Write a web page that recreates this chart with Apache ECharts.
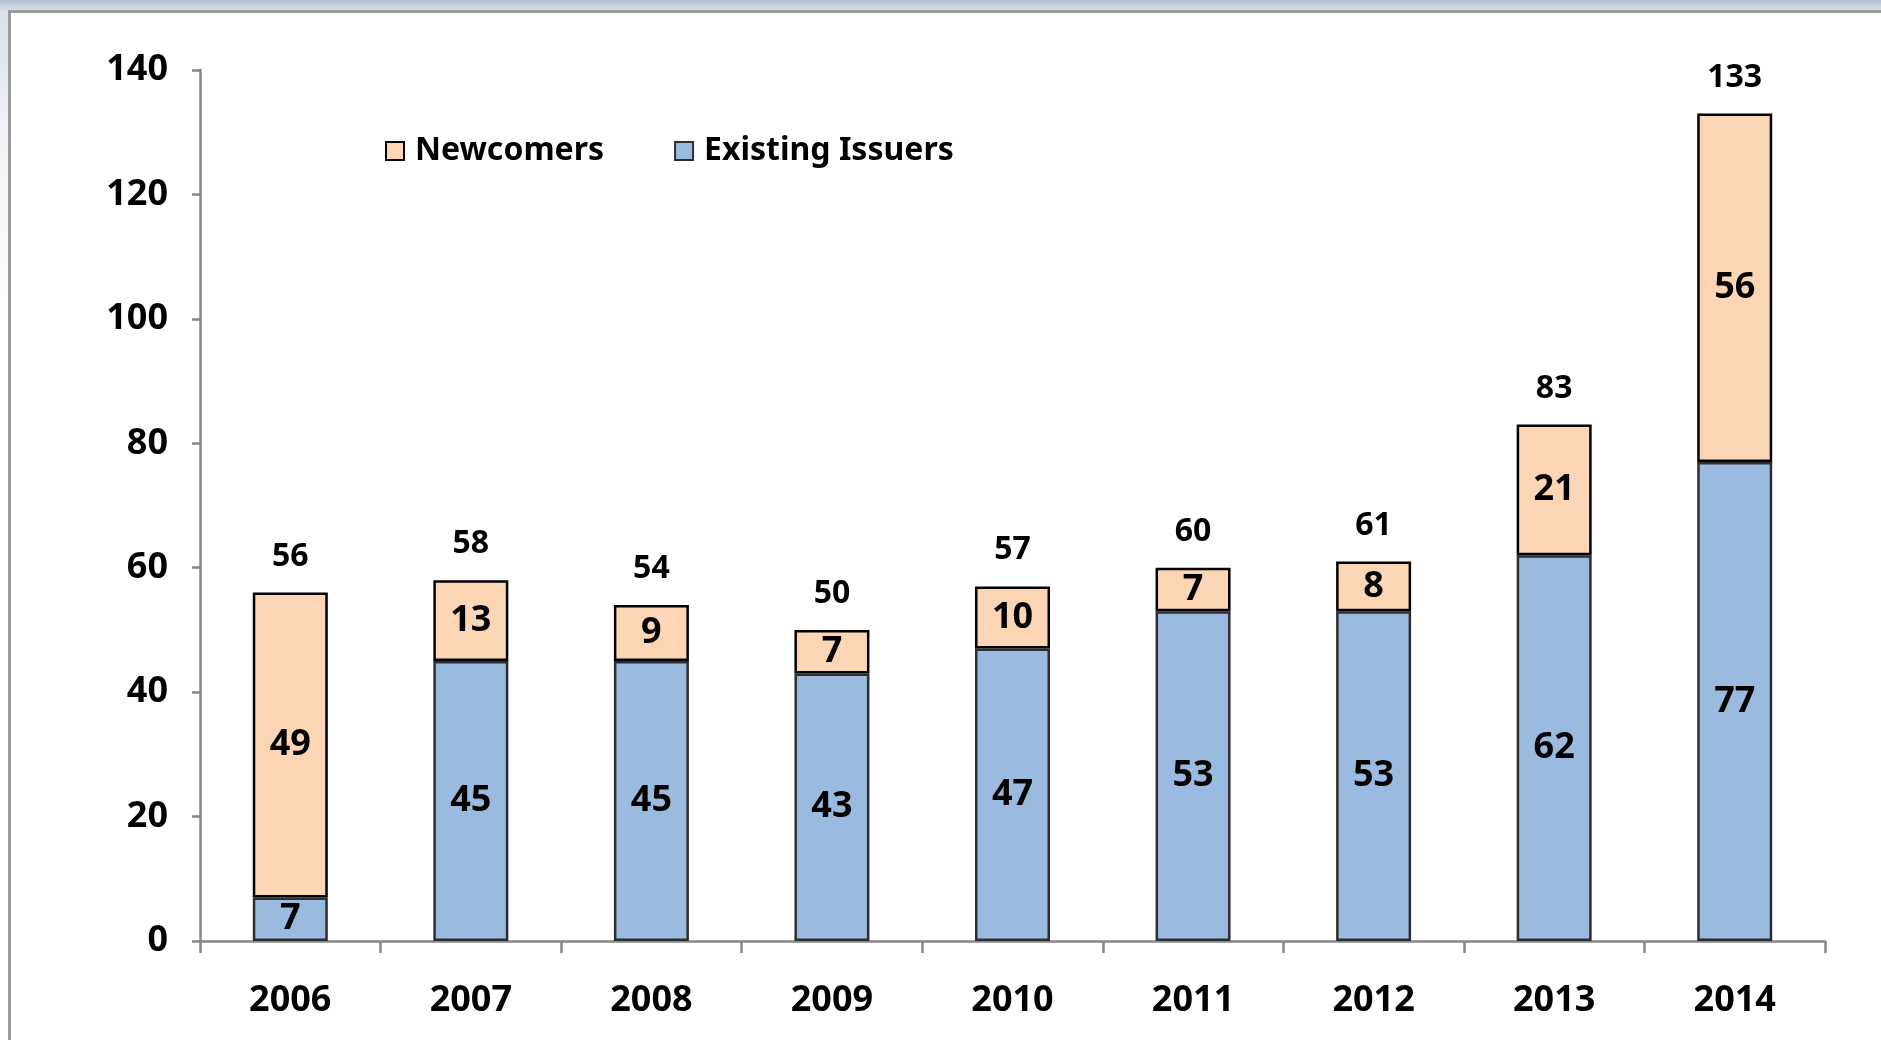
<!DOCTYPE html>
<html>
<head>
<meta charset="utf-8">
<script src="https://cdn.jsdelivr.net/npm/echarts@6/dist/echarts.min.js"></script>
<style>
	html, body { margin: 0; padding: 0; width: 1881px; height: 1040px; overflow: hidden; }
	body { background: linear-gradient(#b5c1d0 0, #d9e0e9 11px, #eef1f5 120px, #ffffff 320px); position: relative; }
	#frame { position: absolute; left: 8px; top: 10px; width: 1900px; height: 1100px; background: #fff;
		border-left: 3px solid #9a9a9a; border-top: 3px solid #9a9a9a; }
	#main { position: absolute; left: 0; top: 0; width: 1881px; height: 1040px; }
</style>
</head>
<body>
<div id="frame"></div>
<div id="main"></div>
<script>
// 年份
var years = ['2006', '2007', '2008', '2009', '2010', '2011', '2012', '2013', '2014'];
// 既有发行人 (下层)
var existing = [7, 45, 45, 43, 47, 53, 53, 62, 77];
// 新发行人 (上层)
var newcomers = [49, 13, 9, 7, 10, 7, 8, 21, 56];
// 合计 (柱顶标签)
var totals = [56, 58, 54, 50, 57, 60, 61, 83, 133];

var font = '"Noto Sans", "DejaVu Sans", sans-serif';

var chart = echarts.init(document.getElementById('main'), null, { renderer: 'canvas' });

var option = {
	animation: false,
	backgroundColor: 'transparent',
	//网格
	grid: {
		left: 200,
		right: 56,
		top: 70,
		bottom: 99,
		containLabel: false
	},
	//图例
	legend: {
		data: ['Newcomers', 'Existing Issuers'],
		left: 380,
		top: 130,
		itemWidth: 18,
		itemHeight: 18,
		itemGap: 70,
		icon: 'rect',
		textStyle: {
			fontFamily: font,
			fontWeight: 'bold',
			fontSize: 32,
			color: '#000',
			padding: [0, 0, 0, 6]
		}
	},
	//x轴
	xAxis: {
		type: 'category',
		data: years,
		axisLine: {
			lineStyle: { color: '#878787', width: 2.5 }
		},
		axisTick: {
			show: true,
			length: 12,
			lineStyle: { color: '#878787', width: 2.5 }
		},
		axisLabel: {
			margin: 42,
			color: '#000',
			fontFamily: font,
			fontWeight: 'bold',
			fontSize: 36
		}
	},
	//y轴
	yAxis: {
		type: 'value',
		min: 0,
		max: 140,
		interval: 20,
		splitLine: { show: false },
		axisLine: {
			show: true,
			lineStyle: { color: '#878787', width: 2.5 }
		},
		axisTick: {
			show: true,
			length: 8,
			lineStyle: { color: '#878787', width: 2.5 }
		},
		axisLabel: {
			margin: 32,
			color: '#000',
			fontFamily: font,
			fontWeight: 'bold',
			fontSize: 36
		}
	},
	//系列列表
	series: [
		{
			name: 'Existing Issuers',
			type: 'bar',
			stack: 'total',
			barWidth: 75,
			barGap: '-100%',
			data: existing,
			itemStyle: {
				color: '#9bbadf',
				borderColor: '#2e2e2e',
				borderWidth: 2.5
			},
			label: {
				show: true,
				position: 'inside',
				color: '#000',
				fontFamily: font,
				fontWeight: 'bold',
				fontSize: 36
			}
		},
		{
			name: 'Newcomers',
			type: 'bar',
			stack: 'total',
			barWidth: 75,
			barGap: '-100%',
			data: newcomers,
			itemStyle: {
				color: '#fcd5b5',
				borderColor: '#000',
				borderWidth: 2.5
			},
			label: {
				show: true,
				position: 'inside',
				color: '#000',
				fontFamily: font,
				fontWeight: 'bold',
				fontSize: 36
			}
		},
		{
			// 透明柱, 只显示合计标签
			name: 'Total',
			type: 'bar',
			barWidth: 75,
			barGap: '-100%',
			data: totals,
			silent: true,
			z: 1,
			itemStyle: {
				color: 'rgba(0,0,0,0)',
				borderWidth: 0
			},
			label: {
				show: true,
				position: 'top',
				distance: 20,
				color: '#000',
				fontFamily: font,
				fontWeight: 'bold',
				fontSize: 32
			}
		}
	]
};

chart.setOption(option);
</script>
</body>
</html>
